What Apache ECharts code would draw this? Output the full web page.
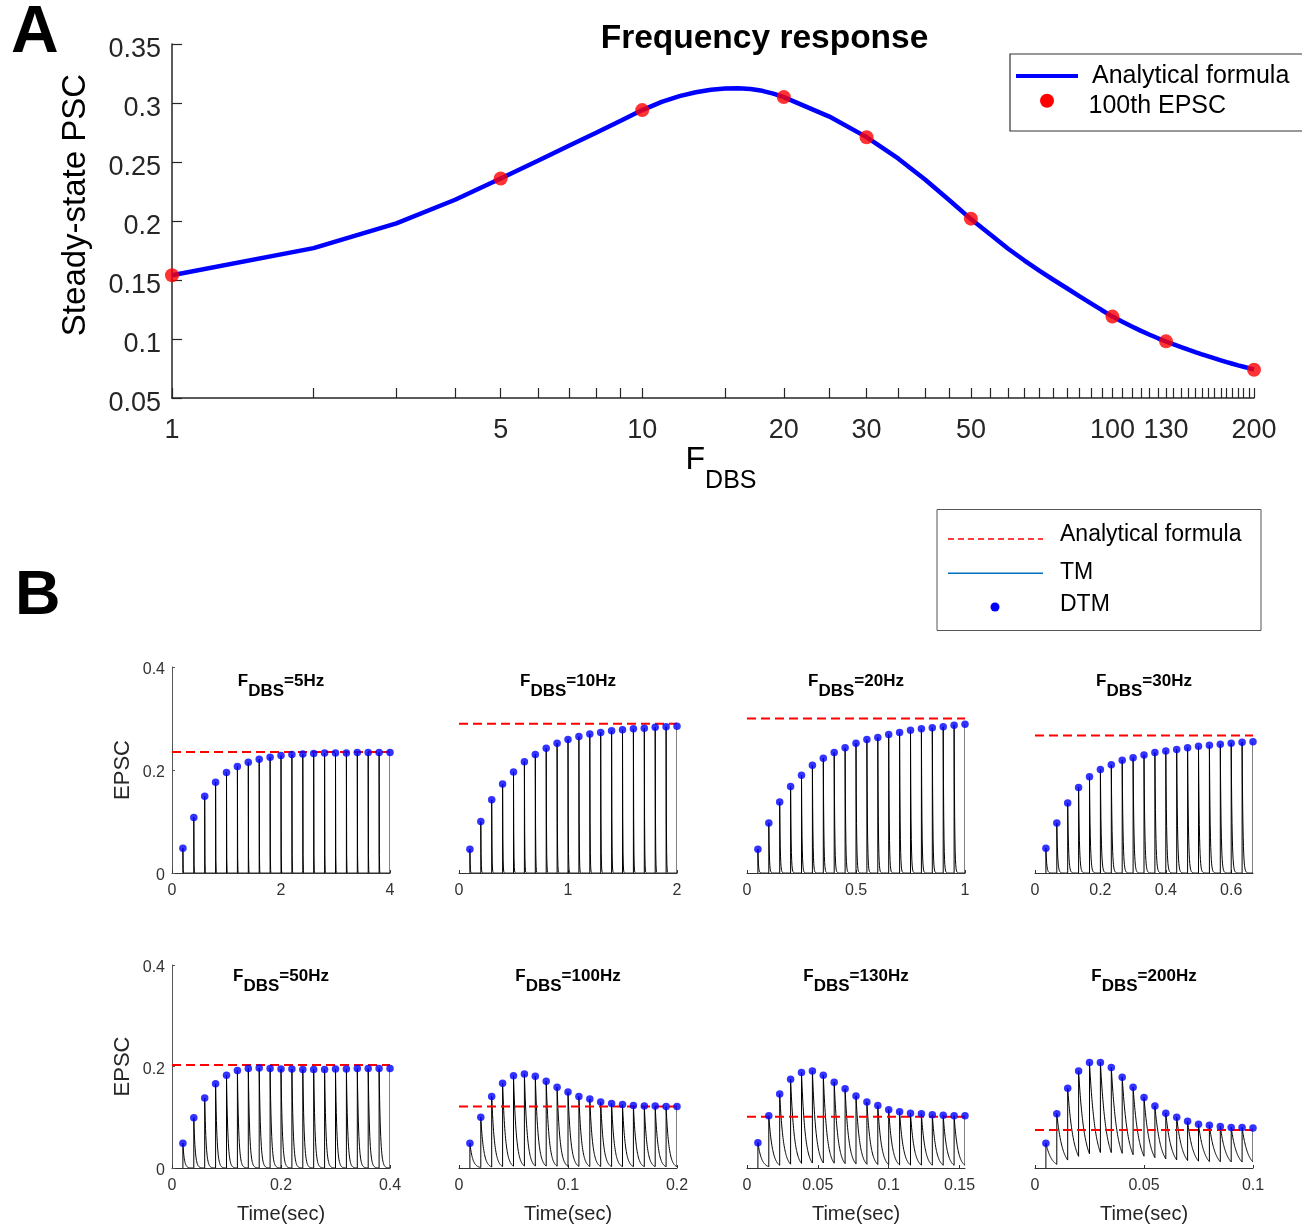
<!DOCTYPE html>
<html>
<head>
<meta charset="utf-8">
<script src="https://cdn.jsdelivr.net/npm/echarts@6/dist/echarts.min.js"></script>
<style>
html,body{margin:0;padding:0;background:#fff;}
#chart{width:1302px;height:1226px;}
</style>
</head>
<body>
<div id="chart"></div>
<script>
// ---------------- Panel A data ----------------
const freqCurve = [1,2,3,4,5,6,7,8,9,10,11,12,13,14,15,16,17,18,19,20,
  25,30,35,40,45,50,55,60,65,70,75,80,85,90,95,100,
  105,110,115,120,125,130,135,140,145,150,155,160,165,170,175,180,185,190,195,200];
const curveValues = [0.154,0.177,0.198,0.218,0.236,0.251,0.264,0.275,0.285,0.294,
  0.3009,0.3058,0.3091,0.3112,0.3122,0.3125,0.3118,0.3103,0.3079,0.305,
  0.2885,0.2711,0.2530,0.2350,0.2176,0.2016,0.1885,0.1765,0.1665,0.1578,0.1500,0.1430,0.1363,0.1302,0.1244,0.1190,
  0.1146,0.1106,0.1069,0.1036,0.1006,0.0979,0.0954,0.0931,0.0909,0.0889,0.0870,0.0852,0.0835,0.0819,0.0804,0.0790,0.0777,0.0765,0.0753,0.0742];
const freqDots = [1,5,10,20,30,50,100,130,200];
const dotValues = [0.154,0.236,0.294,0.305,0.271,0.202,0.119,0.098,0.074];
const freqTickLabels = [1,5,10,20,30,50,100,130,200];
const freqTickMarks = [1,2,3,4,5,6,7,8,9,10,15,20,25,30,35,40,45,50,55,60,65,70,75,80,85,90,95,100,
  105,110,115,120,125,130,135,140,145,150,155,160,165,170,175,180,185,190,195,200];

// ---------------- Panel B data ----------------
const bFreqs = [5,10,20,30,50,100,130,200];
const peaks5Hz   = [0.048,0.108,0.149,0.176,0.195,0.207,0.215,0.221,0.225,0.228,0.230,0.231,0.232,0.233,0.233,0.233,0.234,0.234,0.234,0.234];
const peaks10Hz  = [0.046,0.100,0.142,0.173,0.196,0.216,0.230,0.242,0.252,0.259,0.265,0.270,0.273,0.276,0.278,0.280,0.281,0.283,0.284,0.285];
const peaks20Hz  = [0.046,0.097,0.138,0.168,0.190,0.209,0.223,0.234,0.243,0.252,0.259,0.263,0.269,0.273,0.277,0.280,0.282,0.284,0.287,0.289];
const peaks30Hz  = [0.048,0.097,0.136,0.166,0.187,0.201,0.210,0.219,0.224,0.229,0.234,0.237,0.240,0.243,0.246,0.248,0.250,0.252,0.254,0.255];
const peaks50Hz  = [0.049,0.099,0.138,0.166,0.183,0.192,0.196,0.197,0.196,0.195,0.195,0.194,0.194,0.194,0.195,0.195,0.196,0.196,0.196,0.196];
const peaks100Hz = [0.049,0.100,0.141,0.167,0.182,0.185,0.181,0.171,0.159,0.150,0.141,0.136,0.130,0.127,0.125,0.123,0.122,0.122,0.121,0.121];
const peaks130Hz = [0.050,0.103,0.146,0.175,0.188,0.191,0.183,0.169,0.156,0.142,0.130,0.123,0.115,0.111,0.108,0.107,0.105,0.104,0.103,0.103];
const peaks200Hz = [0.049,0.107,0.157,0.191,0.208,0.208,0.198,0.179,0.159,0.139,0.122,0.108,0.100,0.092,0.086,0.084,0.082,0.080,0.080,0.079];
const bPeaks = [peaks5Hz,peaks10Hz,peaks20Hz,peaks30Hz,peaks50Hz,peaks100Hz,peaks130Hz,peaks200Hz];
const bSteady = [0.235,0.290,0.300,0.267,0.203,0.121,0.101,0.075];
const bXTicks = [[0,2,4],[0,1,2],[0,0.5,1],[0,0.2,0.4,0.6],[0,0.2,0.4],[0,0.1,0.2],[0,0.05,0.1,0.15],[0,0.05,0.1]];
const bYTicks = [0,0.2,0.4];

// ---------------- style / layout ----------------
const FONT = '"Liberation Sans", Arial, Helvetica, sans-serif';
const AX = '#262626';
const DECAY_TAU = 0.0026; // visual decay of each TM transient (s)
const B_LEFTS = [172, 459, 747, 1035];
const B_TOPS = [667, 965];
const B_HEIGHTS = [206, 203];
const B_WIDTH = 218;

const chart = echarts.init(document.getElementById('chart'), null, {renderer: 'canvas'});

function num(v) { return String(parseFloat(Number(v).toFixed(4))); }

const grids = [{left: 172, top: 44, width: 1082, height: 354}];
const xAxes = [{
  type: 'log', logBase: 10, min: 1, max: 200, gridIndex: 0,
  axisLine: {lineStyle: {color: AX, width: 1.5}},
  axisTick: {inside: true, length: 10, customValues: freqTickMarks, lineStyle: {color: AX, width: 1.2}},
  axisLabel: {customValues: freqTickLabels, fontSize: 27, color: AX, fontFamily: FONT, margin: 19},
  splitLine: {show: false}, minorTick: {show: false}
}];
const yAxes = [{
  type: 'value', min: 0.05, max: 0.35, interval: 0.05, gridIndex: 0,
  name: 'Steady-state PSC', nameLocation: 'middle', nameGap: 80,
  nameTextStyle: {fontSize: 33, color: '#000', fontFamily: FONT, padding: [0, 0, 0, 32]},
  axisLine: {show: true, lineStyle: {color: AX, width: 1.5}},
  axisTick: {show: true, inside: true, length: 10, lineStyle: {color: AX, width: 1.2}},
  axisLabel: {
    margin: 11,
    formatter: v => '{v|' + num(v) + '}',
    rich: {v: {fontSize: 27, color: AX, fontFamily: FONT, padding: [11, 0, 0, 0]}}
  },
  splitLine: {show: false}
}];
const series = [
  {type: 'line', xAxisIndex: 0, yAxisIndex: 0, name: 'Analytical formula',
   data: freqCurve.map((f, i) => [f, curveValues[i]]),
   showSymbol: false, lineStyle: {color: '#0000FF', width: 4.5}, itemStyle: {color: '#0000FF'}, z: 2},
  {type: 'scatter', xAxisIndex: 0, yAxisIndex: 0, name: '100th EPSC',
   data: freqDots.map((f, i) => [f, dotValues[i]]),
   symbolSize: 14, itemStyle: {color: '#FF0000'}, z: 3}
];

function makeTraceRender(peaks, freq, xmax) {
  const T = 1 / freq;
  return function (params, api) {
    const k = params.dataIndex;
    const t = api.value(0);
    const p = api.value(1);
    const start = k === 0 ? 0 : peaks[k - 1] * Math.exp(-T / DECAY_TAU);
    const pts = [api.coord([t, start]), api.coord([t, p])];
    const tEnd = Math.min(t + T, xmax);
    const n = 40;
    if (tEnd > t) {
      for (let i = 1; i <= n; i++) {
        const tt = t + (tEnd - t) * i / n;
        pts.push(api.coord([tt, p * Math.exp(-(tt - t) / DECAY_TAU)]));
      }
    }
    return {type: 'polyline', shape: {points: pts}, style: {stroke: '#000', lineWidth: 1, fill: null}};
  };
}

const graphics = [];
bFreqs.forEach((f, i) => {
  const row = Math.floor(i / 4), col = i % 4;
  const gi = i + 1;
  const peaks = bPeaks[i];
  const times = peaks.map((_, k) => (k + 1) / f);
  const xmax = peaks.length / f;
  grids.push({left: B_LEFTS[col], top: B_TOPS[row], width: B_WIDTH, height: B_HEIGHTS[row]});
  xAxes.push({
    type: 'value', gridIndex: gi, min: 0, max: xmax,
    name: row === 1 ? 'Time(sec)' : '', nameLocation: 'middle', nameGap: 36,
    nameTextStyle: {fontSize: 20, color: AX, fontFamily: FONT},
    axisLine: {lineStyle: {color: '#333', width: 1}},
    axisTick: {inside: true, length: 3, customValues: bXTicks[i], lineStyle: {color: '#333'}},
    axisLabel: {customValues: bXTicks[i], fontSize: 16, color: '#333', fontFamily: FONT, margin: 10},
    splitLine: {show: false}
  });
  yAxes.push({
    type: 'value', gridIndex: gi, min: 0, max: 0.4, interval: 0.2, show: col === 0,
    name: col === 0 ? 'EPSC' : '', nameLocation: 'middle', nameGap: 38,
    nameTextStyle: {fontSize: 22, color: AX, fontFamily: FONT},
    axisLine: {show: true, lineStyle: {color: '#555', width: 1}},
    axisTick: {show: true, inside: true, length: 3, customValues: bYTicks, lineStyle: {color: '#555'}},
    axisLabel: {
      margin: 7,
      formatter: v => '{v|' + num(v) + '}',
      rich: {v: {fontSize: 16, color: '#333', fontFamily: FONT, padding: [6, 0, 0, 0]}}
    },
    splitLine: {show: false}
  });
  series.push({
    type: 'custom', xAxisIndex: gi, yAxisIndex: gi, name: 'TM',
    data: peaks.map((p, k) => [times[k], p]), encode: {x: 0, y: 1},
    renderItem: makeTraceRender(peaks, f, xmax), clip: true, silent: true, z: 2
  });
  series.push({
    type: 'line', xAxisIndex: gi, yAxisIndex: gi, name: 'Analytical formula B',
    data: [[0, bSteady[i]], [xmax, bSteady[i]]], showSymbol: false, silent: true,
    lineStyle: {color: '#FF0000', width: 2, type: [9, 5]}, z: 3
  });
  series.push({
    type: 'scatter', xAxisIndex: gi, yAxisIndex: gi, name: 'DTM',
    data: peaks.map((p, k) => [times[k], p]), symbolSize: 7.5,
    itemStyle: {color: '#0000FF'}, z: 4
  });
  graphics.push({
    type: 'text', x: B_LEFTS[col] + B_WIDTH / 2, y: row === 0 ? 672.8 : 967.7,
    style: {
      text: '{m|F}{s|DBS}{m|=' + f + 'Hz}', align: 'center', verticalAlign: 'top',
      rich: {
        m: {fontSize: 17, fontWeight: 'bold', fontFamily: FONT, fill: '#000', lineHeight: 27, verticalAlign: 'top'},
        s: {fontSize: 17, fontWeight: 'bold', fontFamily: FONT, fill: '#000', lineHeight: 27, verticalAlign: 'bottom'}
      }
    }
  });
});

// Panel labels, titles and legends
graphics.push(
  {type: 'text', x: 11, y: 33.5, style: {text: 'A', fontSize: 66, fontWeight: 'bold', fontFamily: FONT, fill: '#000', align: 'left', verticalAlign: 'middle'}},
  {type: 'text', x: 15, y: 597, style: {text: 'B', fontSize: 63, fontWeight: 'bold', fontFamily: FONT, fill: '#000', align: 'left', verticalAlign: 'middle'}},
  {type: 'text', x: 764.5, y: 38.5, style: {text: 'Frequency response', fontSize: 33.5, fontWeight: 'bold', fontFamily: FONT, fill: '#000', align: 'center', verticalAlign: 'middle'}},
  {type: 'text', x: 721, y: 444.5, style: {
    text: '{m|F}{s|DBS}', align: 'center', verticalAlign: 'top',
    rich: {
      m: {fontSize: 32, fontFamily: FONT, fill: '#000', lineHeight: 49, verticalAlign: 'top'},
      s: {fontSize: 25, fontFamily: FONT, fill: '#000', lineHeight: 49, verticalAlign: 'bottom'}
    }}},
  // Legend A
  {type: 'rect', shape: {x: 1010, y: 54, width: 300, height: 77}, style: {fill: '#fff', stroke: '#333', lineWidth: 1.2}, z: 10},
  {type: 'line', shape: {x1: 1016, y1: 76, x2: 1078, y2: 76}, style: {stroke: '#0000FF', lineWidth: 4}, z: 11},
  {type: 'text', x: 1092, y: 76, style: {text: 'Analytical formula', fontSize: 25, fontFamily: FONT, fill: '#000', align: 'left', verticalAlign: 'middle'}, z: 11},
  {type: 'circle', shape: {cx: 1047, cy: 100.7, r: 7}, style: {fill: '#FF0000'}, z: 11},
  {type: 'text', x: 1088.5, y: 106, style: {text: '100th EPSC', fontSize: 25, fontFamily: FONT, fill: '#000', align: 'left', verticalAlign: 'middle'}, z: 11},
  // Legend B
  {type: 'rect', shape: {x: 937, y: 509.5, width: 324, height: 121}, style: {fill: '#fff', stroke: '#555', lineWidth: 1}, z: 10},
  {type: 'line', shape: {x1: 948, y1: 539, x2: 1043, y2: 539}, style: {stroke: '#FF0000', lineWidth: 1.5, lineDash: [6, 4]}, z: 11},
  {type: 'text', x: 1060, y: 534.5, style: {text: 'Analytical formula', fontSize: 23, fontFamily: FONT, fill: '#000', align: 'left', verticalAlign: 'middle'}, z: 11},
  {type: 'line', shape: {x1: 948, y1: 573.3, x2: 1043, y2: 573.3}, style: {stroke: '#0072BD', lineWidth: 1.5}, z: 11},
  {type: 'text', x: 1060, y: 572.5, style: {text: 'TM', fontSize: 23, fontFamily: FONT, fill: '#000', align: 'left', verticalAlign: 'middle'}, z: 11},
  {type: 'circle', shape: {cx: 995, cy: 607, r: 4.5}, style: {fill: '#0000FF'}, z: 11},
  {type: 'text', x: 1060, y: 605, style: {text: 'DTM', fontSize: 23, fontFamily: FONT, fill: '#000', align: 'left', verticalAlign: 'middle'}, z: 11}
);

chart.setOption({
  animation: false,
  backgroundColor: '#fff',
  textStyle: {fontFamily: FONT},
  grid: grids,
  xAxis: xAxes,
  yAxis: yAxes,
  series: series,
  graphic: graphics
});
</script>
</body>
</html>
